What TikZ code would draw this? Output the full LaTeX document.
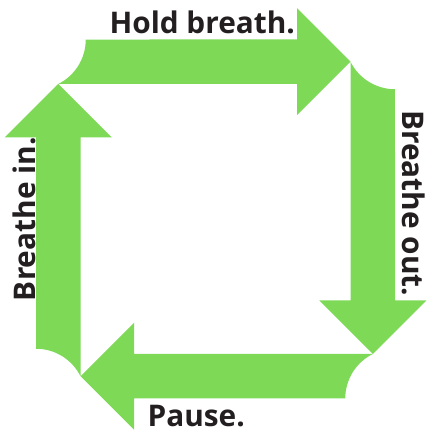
\documentclass[tikz,border=0pt]{standalone}
\usepackage{fontspec}
\setmainfont{Open Sans}
\usepackage{xcolor}
\usepackage{tikz}
\usetikzlibrary{positioning}
\definecolor{breathgreen}{HTML}{7ED957}
\definecolor{wordgray}{HTML}{231F20}

\begin{document}
\begin{tikzpicture}[
    x=1pt, y=1pt,
    side/.style={fill=breathgreen},
    words/.style={font=\fontsize{29.8}{30}\selectfont\bfseries, text=wordgray, inner sep=0pt, anchor=base},
]
\useasboundingbox (0,0) rectangle (426,431);

% Four arrows, one per side of the square
\foreach \ang in {0,-90,-180,-270}{
  \begin{scope}[shift={(215.5,212)}, rotate=\ang]
    \fill[side] (-157.25,135) arc[start angle=-63.43, end angle=0, radius=49.75pt]
      -- (81.5,179.5) -- (81.5,210.75) -- (135,157.25)
      -- (81.5,103.75) -- (81.5,135) -- cycle;
  \end{scope}
}

% Labels
\node[words] (hold) at (202.2,397.7) {Hold breath.};
\node[words, rotate=-90] (exhale) at (402.3,227.8) {Breathe out.};
\node[words] (pause) at (196.2,5) {Pause.};
\node[words, rotate=90] (inhale) at (35.7,211.8) {Breathe in.};

\end{tikzpicture}
\end{document}
